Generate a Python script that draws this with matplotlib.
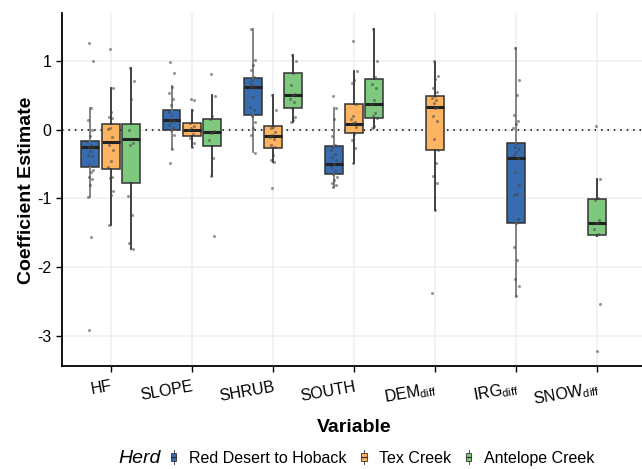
import matplotlib
matplotlib.use("Agg")
import matplotlib.pyplot as plt
from matplotlib.patches import Rectangle, Patch
from matplotlib.lines import Line2D
from matplotlib.legend_handler import HandlerBase

plt.rcParams['font.family'] = ['Liberation Sans', 'DejaVu Sans']
plt.rcParams['mathtext.default'] = 'regular'

variables = ['HF', 'SLOPE', 'SHRUB', 'SOUTH',
             'DEM$_{diff}$', 'IRG$_{diff}$', 'SNOW$_{diff}$']
herds = ['Red Desert to Hoback', 'Tex Creek', 'Antelope Creek']
herd_colors = ['#386CB0', '#FDB462', '#7FC97F']

# one entry per box: which variable, which herd
group_var = [0, 0, 0, 1, 1, 1, 2, 2, 2, 3, 3, 3, 4, 5, 6]
group_herd = [0, 1, 2, 0, 1, 2, 0, 1, 2, 0, 1, 2, 1, 0, 2]

# box statistics
whislo = [-0.98, -1.38, -1.74, -0.28, -0.26, -0.68, -0.33, -0.47, 0.11,
          -0.83, -0.49, 0.03, -1.17, -2.41, -1.55]
q1 = [-0.55, -0.57, -0.78, -0.01, -0.10, -0.24, 0.21, -0.27, 0.32,
      -0.65, -0.05, 0.17, -0.30, -1.35, -1.53]
med = [-0.26, -0.18, -0.14, 0.14, -0.01, -0.04, 0.62, -0.10, 0.50,
       -0.50, 0.085, 0.37, 0.33, -0.41, -1.35]
q3 = [-0.16, 0.08, 0.08, 0.29, 0.09, 0.15, 0.75, 0.055, 0.82,
      -0.24, 0.37, 0.73, 0.49, -0.20, -1.01]
whishi = [0.32, 0.60, 0.89, 0.63, 0.28, 0.50, 1.46, 0.50, 1.08,
          0.31, 0.85, 1.46, 0.98, 1.19, -0.72]

# individual estimates (jittered points)
points = [
    [1.26, 1.0, 0.31, 0.14, 0.0, -0.09, -0.17, -0.22, -0.25, -0.27, -0.31,
     -0.37, -0.39, -0.52, -0.58, -0.61, -0.69, -0.72, -0.81, -0.98, -1.56, -2.91],
    [1.17, 0.6, 0.26, 0.18, 0.17, 0.03, 0.01, -0.11, -0.23, -0.30, -0.46,
     -0.55, -0.69, -0.70, -0.89, -0.95, -1.39],
    [0.89, 0.71, 0.44, 0.0, -0.20, -0.22, -0.96, -1.24, -1.65, -1.74],
    [0.98, 0.82, 0.62, 0.53, 0.45, 0.36, 0.26, 0.21, 0.15, 0.13, 0.11, 0.07,
     0.03, -0.01, -0.08, -0.28, -0.49],
    [0.45, 0.43, 0.28, 0.09, 0.05, 0.02, -0.01, -0.06, -0.12, -0.19, -0.26],
    [0.81, 0.49, 0.2, 0.15, -0.02, -0.05, -0.15, -0.42, -0.68, -1.54],
    [1.46, 1.01, 0.94, 0.86, 0.77, 0.72, 0.67, 0.64, 0.62, 0.6, 0.48, 0.33,
     0.28, 0.19, 0.11, 0.02, -0.08, -0.34],
    [0.5, 0.29, 0.04, 0.02, -0.03, -0.08, -0.11, -0.14, -0.23, -0.26, -0.37,
     -0.44, -0.47, -0.85],
    [1.08, 0.99, 0.82, 0.65, 0.52, 0.50, 0.44, 0.40, 0.32, 0.18, 0.14, 0.11],
    [0.49, 0.31, 0.16, -0.09, -0.22, -0.25, -0.30, -0.35, -0.40, -0.44, -0.50,
     -0.54, -0.60, -0.64, -0.69, -0.73, -0.77, -0.81, -0.83],
    [1.28, 0.85, 0.72, 0.68, 0.37, 0.19, 0.15, 0.11, 0.09, 0.04, -0.06,
     -0.15, -0.27, -0.49],
    [1.46, 0.99, 0.77, 0.66, 0.6, 0.43, 0.37, 0.24, 0.2, 0.17, 0.05, 0.03],
    [0.99, 0.78, 0.73, 0.61, 0.55, 0.49, 0.46, 0.43, 0.38, 0.33, 0.31, 0.2,
     0.13, -0.14, -0.30, -0.48, -0.67, -0.77, -1.17, -2.37],
    [1.19, 0.72, 0.50, 0.21, 0.12, 0.08, 0.02, -0.20, -0.26, -0.28, -0.33,
     -0.37, -0.42, -0.61, -0.81, -0.93, -0.95, -1.30, -1.36, -1.70, -1.89,
     -2.17, -2.27, -2.41],
    [0.05, -0.72, -1.0, -1.02, -1.31, -1.36, -1.44, -1.51, -1.53, -2.54, -3.21],
]


class BoxKey(HandlerBase):
    """draws a little boxplot glyph as the legend key"""
    def create_artists(self, legend, orig_handle, xdescent, ydescent,
                       width, height, fontsize, trans):
        cx = -xdescent + width / 2
        bw = width * 0.55
        y0 = -ydescent
        whisk = Line2D([cx, cx], [y0 - height * 0.1, y0 + height * 1.1],
                       color='#333333', lw=0.6, transform=trans)
        box = Rectangle((cx - bw / 2, y0 + height * 0.2), bw, height * 0.6,
                        facecolor=orig_handle.get_facecolor(),
                        edgecolor='#333333', lw=0.6, transform=trans)
        mid = Line2D([cx - bw / 2, cx + bw / 2], [y0 + height / 2] * 2,
                     color='#333333', lw=0.9, transform=trans)
        return [whisk, box, mid]


fig = plt.figure(figsize=(6.42, 4.69), dpi=100)
ax = fig.add_axes([0.0966, 0.2186, 0.9097, 0.7533])

# dodge positions
n_per_var = [group_var.count(v) for v in range(len(variables))]
positions = []
for v, h in zip(group_var, group_herd):
    if n_per_var[v] == 1:
        positions.append(v + 1)
    else:
        positions.append(v + 1 + (h - 1) * 0.25)

ax.grid(True, color='#EFEFEF', lw=1.1, zorder=0)
ax.set_axisbelow(True)
ax.axhline(0, color='black', lw=1.1, linestyle=(0, (1, 3.2)), zorder=1)

for i in range(len(positions)):
    st = [{'whislo': whislo[i], 'q1': q1[i], 'med': med[i],
           'q3': q3[i], 'whishi': whishi[i]}]
    wcol = '#7a7a7a' if group_herd[i] == 0 else '#333333'
    ax.bxp(st, positions=[positions[i]], widths=0.22, patch_artist=True,
           showfliers=False, showcaps=False, manage_ticks=False,
           boxprops=dict(facecolor=herd_colors[group_herd[i]],
                         edgecolor='#333333', lw=1.1),
           whiskerprops=dict(color=wcol, lw=1.3),
           medianprops=dict(color='#222222', lw=2.2),
           zorder=2)
    vals = points[i]
    offs = [((k * 0.618034 + 0.31) % 1 - 0.5) * 0.075 for k in range(len(vals))]
    ax.scatter([positions[i] + o for o in offs], vals, s=5, color='#444444',
               alpha=0.55, linewidths=0, zorder=3)

ax.set_xlim(0.4, 7.6)
ax.set_ylim(-3.44, 1.69)
ax.set_xticks(range(1, len(variables) + 1))
ax.set_xticklabels(variables, rotation=10, ha='right', rotation_mode='anchor',
                   fontsize=11.5, color='black')
ax.set_yticks([-3, -2, -1, 0, 1])
ax.set_yticklabels(['-3', '-2', '-1', '0', '1'], fontsize=11.5, color='black')
ax.tick_params(axis='both', length=4, width=1, color='black')
ax.tick_params(axis='x', pad=5)

for s in ['top', 'right']:
    ax.spines[s].set_visible(False)
for s in ['left', 'bottom']:
    ax.spines[s].set_linewidth(1.3)
    ax.spines[s].set_color('black')

ax.set_xlabel('Variable', fontsize=14, fontweight='bold', labelpad=7)
ax.set_ylabel('Coefficient Estimate', fontsize=14, fontweight='bold', labelpad=2)

handles = [Patch(facecolor=c) for c in herd_colors]
fig.text(0.184, 0.023, 'Herd', fontsize=14, style='italic',
         ha='left', va='center')
fig.legend(handles, herds, handler_map={Patch: BoxKey()},
           loc='center left', bbox_to_anchor=(0.263, 0.023),
           ncol=3, frameon=False, fontsize=11.5, borderpad=0,
           borderaxespad=0, handlelength=0.6, handleheight=0.8,
           handletextpad=0.65, columnspacing=0.8)

fig.savefig('out.png', dpi=100)
